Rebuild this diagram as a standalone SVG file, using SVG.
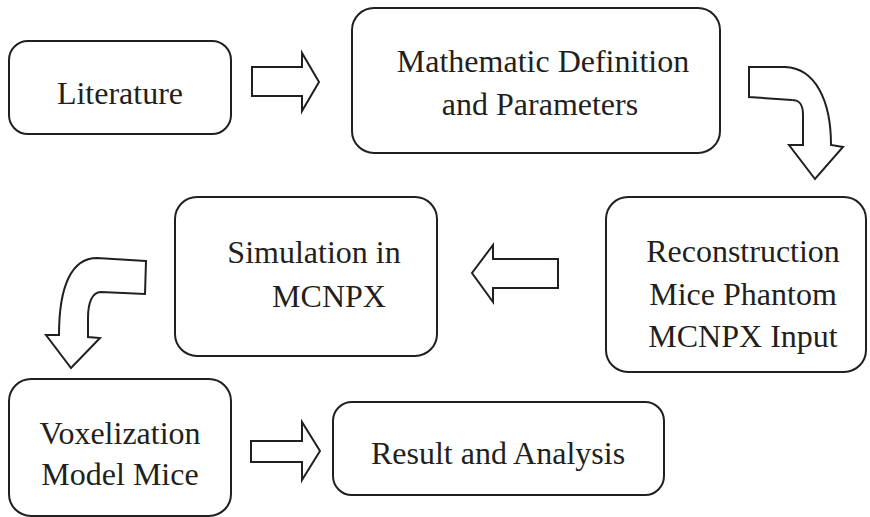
<svg xmlns="http://www.w3.org/2000/svg" width="870" height="517" viewBox="0 0 870 517">
<style>
.box{fill:#fff;stroke:#231f20;stroke-width:2}
.arr{fill:#fff;stroke:#231f20;stroke-width:2;stroke-linejoin:miter}
</style>
<rect width="870" height="517" fill="#fff"/>
<g id="connectors">
<path class="arr" d="M252,67 L302,67 L302,53 L319,82 L302,111 L302,96 L252,96 Z"/>
<path class="arr" d="M749,67 L785,67 C815,68 831,100 831,145 L843,147 L815,179 L789,145 L803,145 L803,115 C803,105 800,100 792,100 L749,97 Z"/>
<path class="arr" d="M558,259 L493,259 L493,245 L472,273 L493,302 L493,288 L558,288 Z"/>
<path class="arr" d="M146,261 L97,258 C72,258 59,285 59,335 L46,335 L71,368 L100,338 L88,337 L88,318 C88,303 92,292 101,292 L145,294 Z"/>
<path class="arr" d="M251,441 L302,441 L302,422 L320,451 L302,480 L302,462 L251,462 Z"/>
</g>
<g id="literature">
<rect class="box" x="9" y="41" width="222" height="93" rx="19"/>
<text font-family="Liberation Serif" font-size="32" fill="#231f20" text-anchor="middle" x="120" y="104">Literature</text>
</g>
<g id="math">
<rect class="box" x="352" y="8" width="368" height="145" rx="22"/>
<text font-family="Liberation Serif" font-size="32" fill="#231f20" text-anchor="middle" x="543" y="72">Mathematic Definition</text>
<text font-family="Liberation Serif" font-size="32" fill="#231f20" text-anchor="middle" x="540" y="115">and Parameters</text>
</g>
<g id="reconstruction">
<rect class="box" x="606" y="197" width="260" height="175" rx="22"/>
<text font-family="Liberation Serif" font-size="32" fill="#231f20" text-anchor="middle" x="743" y="262">Reconstruction</text>
<text font-family="Liberation Serif" font-size="32" fill="#231f20" text-anchor="middle" x="743" y="305">Mice Phantom</text>
<text font-family="Liberation Serif" font-size="32" fill="#231f20" text-anchor="middle" x="743" y="347">MCNPX Input</text>
</g>
<g id="simulation">
<rect class="box" x="175" y="197" width="262" height="159" rx="22"/>
<text font-family="Liberation Serif" font-size="32" fill="#231f20" text-anchor="middle" x="314" y="263">Simulation in</text>
<text font-family="Liberation Serif" font-size="32" fill="#231f20" text-anchor="middle" x="329" y="307">MCNPX</text>
</g>
<g id="voxelization">
<rect class="box" x="9" y="379" width="222" height="137" rx="22"/>
<text font-family="Liberation Serif" font-size="32" fill="#231f20" text-anchor="middle" x="120" y="444">Voxelization</text>
<text font-family="Liberation Serif" font-size="32" fill="#231f20" text-anchor="middle" x="120" y="485">Model Mice</text>
</g>
<g id="result">
<rect class="box" x="333" y="402" width="331" height="93" rx="19"/>
<text font-family="Liberation Serif" font-size="32" fill="#231f20" text-anchor="middle" x="498" y="464">Result and Analysis</text>
</g>
</svg>
